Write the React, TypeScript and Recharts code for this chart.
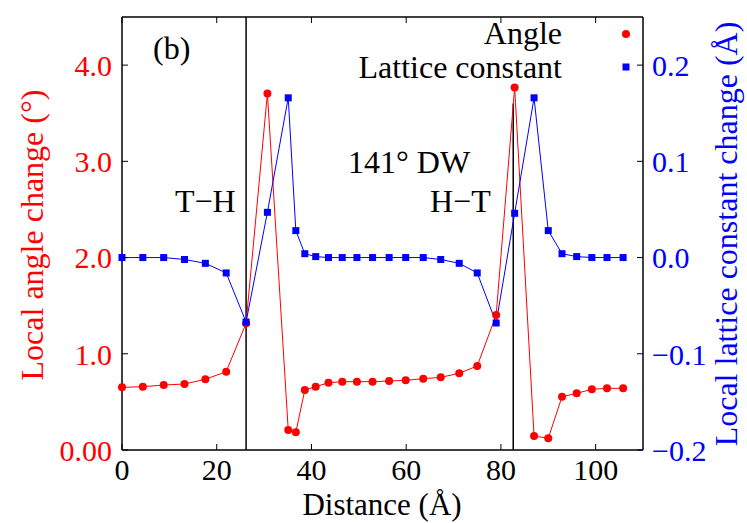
import { ComposedChart, Line, XAxis, YAxis, ReferenceLine, Customized } from 'recharts';

// positions along the wall (Å)
const distance = [
  0, 4.4, 8.8, 13.2, 17.6, 22.0, 26.2, 30.7, 35.1, 36.7, 38.6, 40.9, 43.6, 46.5, 49.6,
  52.9, 56.4, 59.9, 63.6, 67.3, 71.2, 75.0, 79.0, 82.9, 87.0, 90.0, 92.9, 96.0, 99.2, 102.4, 105.8,
];

// local angle change (deg), left axis
const angleChange = [
  0.651, 0.658, 0.675, 0.686, 0.735, 0.814, 1.317, 3.706, 0.208, 0.184, 0.623, 0.658, 0.699, 0.71, 0.71,
  0.71, 0.717, 0.724, 0.741, 0.755, 0.797, 0.873, 1.403, 3.768, 0.145, 0.122, 0.554, 0.589, 0.631, 0.641, 0.641,
];

// local lattice constant change (Å), right axis
const latticeChange = [
  0.0, 0.0, 0.0, -0.002, -0.006, -0.016, -0.067, 0.047, 0.166, 0.028, 0.004, 0.001, 0.0, 0.0, 0.0,
  0.0, 0.0, 0.0, 0.0, -0.002, -0.006, -0.016, -0.068, 0.046, 0.166, 0.028, 0.004, 0.001, 0.0, 0.0, 0.0,
];

const xTicks = [0, 20, 40, 60, 80, 100];
const angleTicks = [0, 1, 2, 3, 4];
const latticeTicks = [-0.2, -0.1, 0, 0.1, 0.2];

const thWall = 26.2;
const htWall = 82.6;
const htWallTop = 3.6;

const serif = '"Liberation Serif", "Times New Roman", Times, serif';
const TICK_FONT = 30;
const TICK_LEN = 6;

const chartData = distance.map((d, i) => ({
  distance: d,
  angle: angleChange[i],
  lattice: latticeChange[i],
}));

// gnuplot style: tick marks point into the plot, label sits outside
const makeTick =
  (side: 'bottom' | 'top' | 'left' | 'right', color: string, fmt: (v: number) => string, gap: number) =>
  (props: any) => {
    const { x, y, payload, index } = props;
    const label = fmt(payload.value);
    if (side === 'bottom') {
      const ay = y - gap;
      return (
        <g key={`b-${index}`}>
          <line x1={x} y1={ay} x2={x} y2={ay - TICK_LEN} stroke="#000" />
          <text x={x} y={y + TICK_FONT * 0.71} textAnchor="middle" fill={color} fontSize={TICK_FONT} fontFamily={serif}>
            {label}
          </text>
        </g>
      );
    }
    if (side === 'top') {
      return (
        <g key={`t-${index}`}>
          <line x1={x} y1={y + gap} x2={x} y2={y + gap + TICK_LEN} stroke="#000" />
        </g>
      );
    }
    if (side === 'left') {
      const ax = x + gap;
      return (
        <g key={`l-${index}`}>
          <line x1={ax} y1={y} x2={ax + TICK_LEN} y2={y} stroke="#000" />
          <text x={x} y={y + TICK_FONT * 0.36} textAnchor="end" fill={color} fontSize={TICK_FONT} fontFamily={serif}>
            {label}
          </text>
        </g>
      );
    }
    const ax = x - gap;
    return (
      <g key={`r-${index}`}>
        <line x1={ax} y1={y} x2={ax - TICK_LEN} y2={y} stroke="#000" />
        <text x={x} y={y + TICK_FONT * 0.36} textAnchor="start" fill={color} fontSize={TICK_FONT} fontFamily={serif}>
          {label}
        </text>
      </g>
    );
  };

const SquareDot = (props: any) => {
  const { cx, cy, index } = props;
  if (cx == null || cy == null) return <g key={`sq-${index}`} />;
  return <rect key={`sq-${index}`} x={cx - 3.5} y={cy - 3.5} width={7} height={7} fill="#0000ff" />;
};

const Annotations = () => (
  <g fontFamily={serif} fill="#000">
    <text x={153} y={59} fontSize={32}>(b)</text>
    <text x={175} y={212} fontSize={32}>T−H</text>
    <text x={348} y={173} fontSize={32}>141° DW</text>
    <text x={430} y={212} fontSize={32}>H−T</text>

    <text x={562} y={44} fontSize={32} textAnchor="end">Angle</text>
    <circle cx={626} cy={34} r={4} fill="#ff0000" />
    <text x={562} y={78} fontSize={32} textAnchor="end">Lattice constant</text>
    <rect x={622.5} y={63.5} width={7} height={7} fill="#0000ff" />

    <text x={43} y={235} fontSize={32} fill="#ff0000" textAnchor="middle" transform="rotate(-90, 43, 235)">
      Local angle change (°)
    </text>
    <text x={737} y={234} fontSize={32} fill="#0000ff" textAnchor="middle" transform="rotate(-90, 737, 234)">
      Local lattice constant change (Å)
    </text>
    <text x={382} y={515} fontSize={31} textAnchor="middle">Distance (Å)</text>
  </g>
);

export default function App() {
  const axisLine = { stroke: '#000', strokeWidth: 1.5 };

  return (
    <div style={{ position: 'absolute', left: 0, top: 0, background: '#fff' }}>
      <ComposedChart
        width={747}
        height={523}
        data={chartData}
        margin={{ top: 16, right: 14, bottom: 33, left: 22 }}
        style={{ fontFamily: serif }}
      >
        <XAxis
          xAxisId="bottom"
          dataKey="distance"
          type="number"
          domain={[0, 110]}
          ticks={xTicks}
          interval={0}
          height={40}
          tickSize={0}
          tickMargin={9}
          axisLine={axisLine}
          tickLine={false}
          tick={makeTick('bottom', '#000', (v) => String(v), 9)}
        />
        <XAxis
          xAxisId="top"
          orientation="top"
          dataKey="distance"
          type="number"
          domain={[0, 110]}
          ticks={xTicks}
          interval={0}
          height={1}
          tickSize={0}
          tickMargin={0}
          axisLine={axisLine}
          tickLine={false}
          tick={makeTick('top', '#000', () => '', 0)}
        />
        <YAxis
          yAxisId="angle"
          orientation="left"
          type="number"
          domain={[0, 4.5]}
          ticks={angleTicks}
          interval={0}
          width={100}
          tickSize={0}
          tickMargin={10}
          axisLine={axisLine}
          tickLine={false}
          tick={makeTick('left', '#ff0000', (v) => (v === 0 ? '0.00' : v.toFixed(1)), 10)}
        />
        <YAxis
          yAxisId="lattice"
          orientation="right"
          type="number"
          domain={[-0.2, 0.25]}
          ticks={latticeTicks}
          interval={0}
          width={90}
          tickSize={0}
          tickMargin={9}
          axisLine={axisLine}
          tickLine={false}
          tick={makeTick('right', '#0000ff', (v) => v.toFixed(1).replace('-', '−'), 9)}
        />

        <ReferenceLine xAxisId="bottom" yAxisId="angle" x={thWall} stroke="#000" strokeWidth={1.5} />
        <ReferenceLine
          xAxisId="bottom"
          yAxisId="angle"
          segment={[{ x: htWall, y: 0 }, { x: htWall, y: htWallTop }]}
          stroke="#000"
          strokeWidth={1.5}
        />

        <Line
          xAxisId="bottom"
          yAxisId="angle"
          dataKey="angle"
          type="linear"
          stroke="#ff0000"
          strokeWidth={1}
          dot={{ r: 4, fill: '#ff0000', stroke: '#ff0000', strokeWidth: 0 }}
          isAnimationActive={false}
        />
        <Line
          xAxisId="bottom"
          yAxisId="lattice"
          dataKey="lattice"
          type="linear"
          stroke="#0000ff"
          strokeWidth={1}
          dot={SquareDot}
          isAnimationActive={false}
        />

        <Customized component={Annotations} />
      </ComposedChart>
    </div>
  );
}
